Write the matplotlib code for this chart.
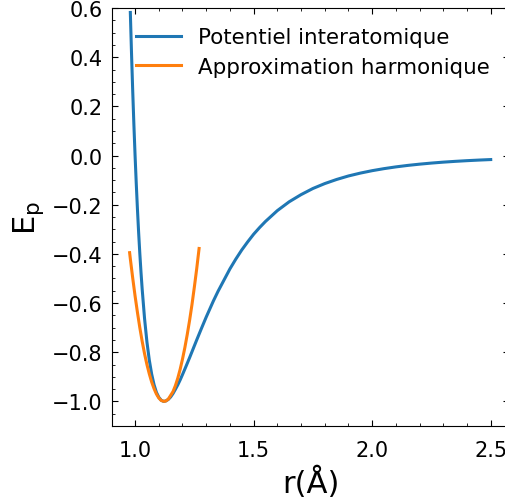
import numpy as np
import matplotlib
matplotlib.use("Agg")
import matplotlib.pyplot as plt
from matplotlib.ticker import MultipleLocator

# Lennard-Jones potential (reduced units), sampled values
r_lj = [0.98, 0.985, 0.99, 0.995, 1.00, 1.005, 1.01, 1.015, 1.02, 1.025,
        1.03, 1.04, 1.05, 1.06, 1.07, 1.08, 1.09, 1.10, 1.11, 1.12,
        1.13, 1.14, 1.15, 1.16, 1.17, 1.18, 1.19, 1.20, 1.215, 1.23,
        1.245, 1.26, 1.28, 1.30, 1.33, 1.35, 1.40, 1.425, 1.45, 1.475,
        1.50, 1.525, 1.55, 1.60, 1.65, 1.70, 1.75, 1.80, 1.85, 1.90,
        1.95, 2.00, 2.05, 2.10, 2.15, 2.20, 2.25, 2.30, 2.35, 2.40,
        2.45, 2.50]
ep_lj = [0.582, 0.416, 0.264, 0.126, 0.000, -0.114, -0.218, -0.313, -0.398, -0.475,
         -0.544, -0.663, -0.758, -0.832, -0.889, -0.932, -0.963, -0.983, -0.995, -1.000,
         -0.998, -0.992, -0.982, -0.968, -0.951, -0.933, -0.913, -0.891, -0.857, -0.822,
         -0.786, -0.750, -0.703, -0.657, -0.592, -0.552, -0.461, -0.421, -0.384, -0.351,
         -0.320, -0.293, -0.268, -0.224, -0.188, -0.159, -0.134, -0.114, -0.0973, -0.083,
         -0.0714, -0.0615, -0.0532, -0.0461, -0.0401, -0.0350, -0.0306, -0.0268, -0.0236, -0.0208,
         -0.0184, -0.0163]

# harmonic approximation around the minimum
r_harm = [0.977, 0.98, 0.99, 1.00, 1.01, 1.02, 1.03, 1.04, 1.05, 1.06,
          1.07, 1.08, 1.09, 1.10, 1.11, 1.1225, 1.13, 1.14, 1.16, 1.17,
          1.18, 1.19, 1.20, 1.21, 1.22, 1.23, 1.24, 1.25, 1.26, 1.27]
ep_harm = [-0.395, -0.420, -0.498, -0.571, -0.638, -0.700, -0.756, -0.806, -0.850, -0.888,
           -0.921, -0.948, -0.970, -0.986, -0.996, -1.000, -0.998, -0.991, -0.960, -0.936,
           -0.906, -0.870, -0.828, -0.781, -0.728, -0.670, -0.606, -0.535, -0.460, -0.378]

fig = plt.figure(figsize=(5.05, 5.02), dpi=100)
ax = fig.add_axes([0.2224, 0.1494, 0.785, 0.8326])

ax.plot(r_lj, ep_lj, color="tab:blue", lw=2.2, label="Potentiel interatomique")
ax.plot(r_harm, ep_harm, color="tab:orange", lw=2.2, label="Approximation harmonique")

ax.set_xlim(0.904, 2.576)
ax.set_ylim(-1.1, 0.6)
ax.xaxis.set_major_locator(MultipleLocator(0.5))
ax.xaxis.set_minor_locator(MultipleLocator(0.1))
ax.yaxis.set_major_locator(MultipleLocator(0.2))
ax.yaxis.set_minor_locator(MultipleLocator(0.05))
ax.tick_params(which="both", direction="in", top=True, right=True, labelsize=15)
ax.tick_params(axis="x", which="major", pad=10)
ax.tick_params(axis="y", which="major", pad=7)
ax.tick_params(which="major", length=4.5)
ax.tick_params(which="minor", length=2.5)

ax.set_xlabel("r(Å)", fontsize=22)
ax.set_ylabel(r"E$_\mathrm{p}$", fontsize=22)
ax.legend(loc="upper right", frameon=False, fontsize=15.4,
          handlelength=2.1, handletextpad=0.8, labelspacing=0.45)

fig.savefig("out.png", dpi=100)
